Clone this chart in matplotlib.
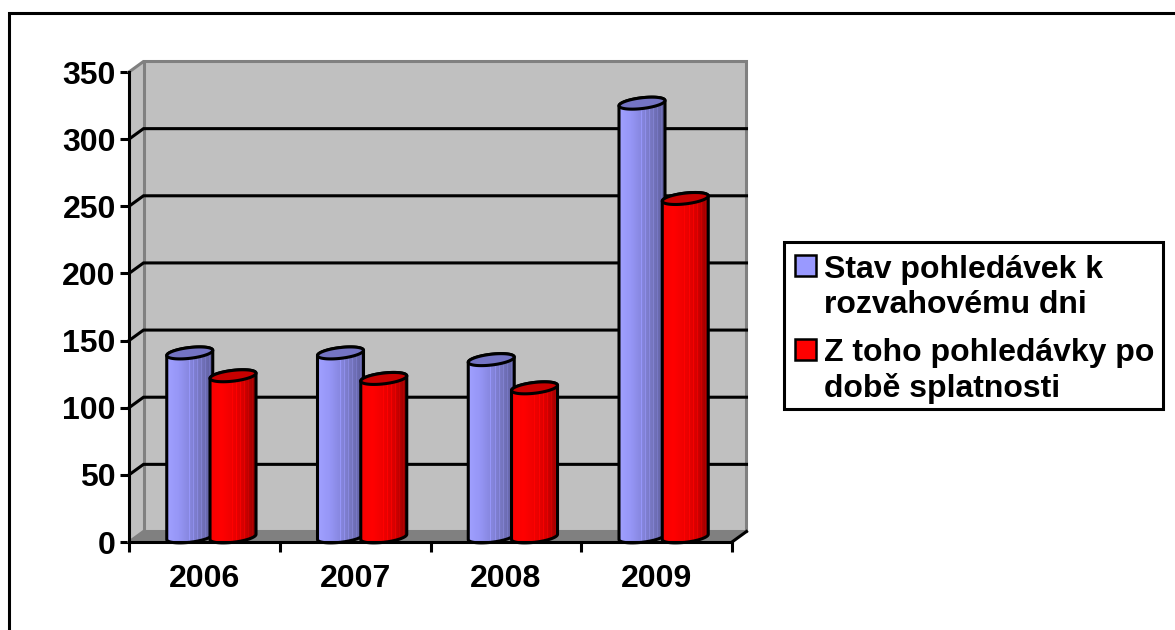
import numpy as np
import matplotlib
matplotlib.use('Agg')
import matplotlib.pyplot as plt
from matplotlib.colors import LinearSegmentedColormap
from matplotlib.lines import Line2D
from matplotlib.patches import PathPatch, Polygon, Rectangle
from matplotlib.path import Path

plt.rcParams['font.family'] = ['Liberation Sans', 'DejaVu Sans']
plt.rcParams['font.weight'] = 'bold'

years = ['2006', '2007', '2008', '2009']
receivables = [137, 137, 132, 323]
overdue = [120, 118, 111, 252]
series_names = ['Stav pohledávek k\nrozvahovému dni', 'Z toho pohledávky po\ndobě splatnosti']
y_ticks = [0, 50, 100, 150, 200, 250, 300, 350]

W, H = 1175, 630
LW = 2.2
fig = plt.figure(figsize=(W / 100, H / 100), dpi=100)
ax = fig.add_axes([129 / W, (H - 542) / H, 603 / W, 470 / H])
ax.set_facecolor('none')

# depth of the fake 3D box, in data units
DX = 14.5 / 603 * 4
DY = 10.5 / 470 * 350
GREY = '#808080'
WALL = '#c0c0c0'

# walls and floor
ax.add_patch(Polygon([(0, 0), (DX, DY), (4 + DX, DY), (4 + DX, 350 + DY), (DX, 350 + DY), (0, 350)],
                     fc=WALL, ec='none', clip_on=False, zorder=1))
ax.add_patch(Polygon([(0, 0), (DX, DY), (4 + DX, DY), (4, 0)], fc=GREY, ec='none', clip_on=False, zorder=1))
box_lines = [
    ([0, DX, 4 + DX, 4 + DX], [350, 350 + DY, 350 + DY, DY]),
    ([DX, DX], [DY, 350 + DY]),
    ([0, DX, 4 + DX], [0, DY, DY]),
]
for xs, ys in box_lines:
    ax.plot(xs, ys, color=GREY, lw=LW, clip_on=False, zorder=2, solid_joinstyle='miter')
ax.plot([4, 4 + DX], [0, DY], color='black', lw=LW, clip_on=False, zorder=2)

# gridlines run along the back wall, with a short diagonal on the side wall
for t in y_ticks[1:-1]:
    ax.plot([0, DX, 4 + DX], [t, t + DY, t + DY], color='black', lw=LW, clip_on=False, zorder=2,
            solid_joinstyle='miter')

blue_cmap = LinearSegmentedColormap.from_list('b', ['#a0a0ff', '#9696f6', '#8686de', '#7474bc', '#5f5f9f'])
red_cmap = LinearSegmentedColormap.from_list('r', ['#f80000', '#ff0000', '#ee0000', '#d40000', '#900000'])

HALF_W = 23 / 150.75
ELL_B = 5.4 / 470 * 350
ELL_TILT = 2.6 / 470 * 350
BASE = 3.8


def ellipse(cx, cy, t):
    return cx + HALF_W * np.cos(t), cy + ELL_B * np.sin(t) + ELL_TILT * np.cos(t)


def cylinder(cx, value, cmap, top_color, z):
    top = value + BASE
    t_low = np.linspace(np.pi, 2 * np.pi, 40)
    xb, yb = ellipse(cx, BASE, t_low)
    t_up = np.linspace(0, np.pi, 40)
    xt, yt = ellipse(cx, top, t_up)
    verts = np.column_stack([np.r_[xb, xt], np.r_[yb, yt]])
    verts = np.vstack([verts, verts[0]])
    body = Path(verts, closed=True)

    # vertical shading in narrow stripes, lighter ones on the right half
    shade = np.linspace(0, 1, 46)
    rgb = cmap(shade)[:, :3]
    rgb[22::4] = np.clip(rgb[22::4] * 1.12, 0, 1)
    img = ax.imshow(rgb[np.newaxis, :, :], extent=[cx - HALF_W, cx + HALF_W, 0, top + 10], aspect='auto',
                    interpolation='nearest', zorder=z, clip_on=True)
    outline = PathPatch(body, fc='none', ec='black', lw=LW, clip_on=False, zorder=z + 0.1)
    ax.add_patch(outline)
    img.set_clip_path(PathPatch(body, transform=ax.transData))

    t = np.linspace(0, 2 * np.pi, 80)
    xe, ye = ellipse(cx, top, t)
    ax.add_patch(Polygon(np.column_stack([xe, ye]), fc=top_color, ec='black', lw=LW, clip_on=False, zorder=z + 0.2))


z = 3
for i in range(len(years)):
    cylinder(i + 0.403, receivables[i], blue_cmap, '#7474c4', z)
    cylinder(i + 0.69, overdue[i], red_cmap, '#c80000', z + 1)
    z += 2

ax.set_xlim(0, 4)
ax.set_ylim(0, 350)
for side in ['top', 'right']:
    ax.spines[side].set_visible(False)
for side in ['left', 'bottom']:
    ax.spines[side].set_linewidth(LW)
    ax.spines[side].set_zorder(20)

ax.set_yticks(y_ticks)
ax.tick_params(axis='y', length=6.5, width=LW, pad=3, labelsize=23)
ax.set_xticks(range(5))
ax.set_xticklabels([])
ax.tick_params(axis='x', which='major', length=7, width=LW)
ax.set_xticks(np.arange(4) + 0.5, labels=years, minor=True)
ax.tick_params(axis='x', which='minor', length=0, pad=16, labelsize=23)


def fx(px):
    return px / W


def fy(px):
    return (H - px) / H


# outer frame only shows on its left and top sides
fig.add_artist(Line2D([fx(9), fx(9), 1], [0, fy(13), fy(13)], color='black', lw=LW, solid_joinstyle='miter'))

# legend box
fig.add_artist(Rectangle((fx(784), fy(409)), 379 / W, 167 / H, transform=fig.transFigure,
                         fc='white', ec='black', lw=LW))
swatch_tops = [255, 339]
baselines = [[278, 313], [361, 397]]
for name, color, sw, bl in zip(series_names, ['#9999ff', '#ff0000'], swatch_tops, baselines):
    fig.add_artist(Rectangle((fx(795), fy(sw + 21)), 21 / W, 21 / H, transform=fig.transFigure,
                             fc=color, ec='black', lw=1.8))
    for line, b in zip(name.split('\n'), bl):
        fig.text(fx(824), fy(b), line, fontsize=23, fontweight='bold', va='baseline', ha='left')

fig.savefig('out.png', dpi=100, facecolor='white')
